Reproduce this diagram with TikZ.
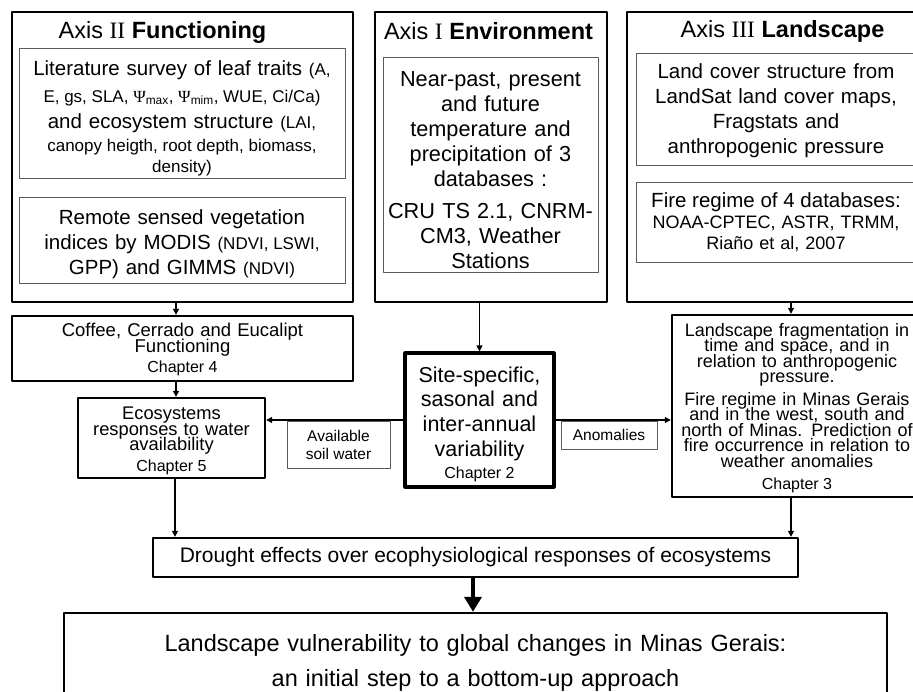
\documentclass[tikz,border=0pt]{standalone}
\usepackage{fontspec}
\setmainfont{Liberation Sans}
\newfontfamily\serifnum{Liberation Serif}
\usetikzlibrary{arrows.meta}
\definecolor{boxgray}{HTML}{5A5A5A}
% Font size with the font's own word spaces and tight line packing.
\newcommand{\sz}[2]{\fontsize{#1}{#2}\selectfont\spaceskip=\fontdimen2\font\lineskiplimit=-20pt\relax}
\newcommand{\paren}[1]{{\sz{17}{23}#1}}
% Invisible strut that pushes a text block down inside its box.
\newcommand{\lowerby}[1]{\rule{0pt}{#1}}

\begin{document}
\begin{tikzpicture}[x=1pt,y=-1pt,line join=round,
    outerbox/.style={draw,line width=1.8pt,inner sep=0pt},
    innerbox/.style={draw=boxgray,line width=0.9pt,inner sep=0pt,align=center},
    stagebox/.style={draw,line width=2.4pt,inner sep=0pt,align=center},
    tagbox/.style={draw=boxgray,line width=0.9pt,inner sep=0pt,align=center,font=\sz{15.5}{18}},
    axistitle/.style={anchor=base,font=\sz{23.5}{28}},
    arr/.style={-{Triangle[length=6pt,width=6pt]},line width=1.2pt},
    bigarr/.style={-{Triangle[length=15pt,width=17pt]},line width=4.5pt}]
  % Frame of the original slide.
  \useasboundingbox (0,0) rectangle (913,691);

  % Axis frames.
  \node[outerbox,minimum width=341pt,minimum height=290pt] (funcaxis) at (182.5,157) {};
  \node[outerbox,minimum width=232pt,minimum height=290pt] (envaxis) at (491,157) {};
  \node[outerbox,minimum width=298pt,minimum height=290pt] (landaxis) at (776,157) {};

  % Axis titles.
  \node[axistitle] (functitle) at (162.5,38) {Axis {\serifnum II} \textbf{Functioning}};
  \node[axistitle] (envtitle) at (488.5,39) {Axis {\serifnum I} \textbf{Environment}};
  \node[axistitle] (landtitle) at (782.5,37) {Axis {\serifnum III} \textbf{Landscape}};

  % Data sources inside each axis.
  \node[innerbox,minimum width=326pt,minimum height=130pt,text width=322pt,font=\sz{20.5}{23}] (leaf) at (182,113)
    {\lowerby{25pt}Literature survey of leaf traits \paren{(A,}\\[4pt]
     \paren{E, gs, SLA, {\serifnum Ψ}\textsubscript{max}, {\serifnum Ψ}\textsubscript{mim}, WUE, Ci/Ca)}\\[3pt]
     and ecosystem structure \paren{(LAI,}\\
     \paren{canopy heigth, root depth, biomass,}\\[-2pt]
     \paren{density)}};
  \node[innerbox,minimum width=326pt,minimum height=86pt,text width=322pt,font=\sz{20.5}{25}] (remote) at (182,240)
    {\lowerby{24pt}Remote sensed vegetation\\
     indices by MODIS \paren{(NDVI, LSWI,}\\
     GPP) and GIMMS \paren{(NDVI)}};
  \node[innerbox,minimum width=215pt,minimum height=215pt,text width=211pt,font=\sz{21.7}{25}] (climate) at (490.5,164.5)
    {\lowerby{27pt}Near-past, present\\ and future\\ temperature and\\ precipitation of 3\\ databases :\\[7pt]
     CRU TS 2.1, CNRM-\\ CM3, Weather\\ Stations};
  \node[innerbox,minimum width=280pt,minimum height=112pt,text width=276pt,font=\sz{20.5}{24.8}] (landcover) at (776,109)
    {\lowerby{18pt}Land cover structure from\\ LandSat land cover maps,\\ Fragstats and\\ anthropogenic pressure};
  \node[innerbox,minimum width=280pt,minimum height=80pt,text width=276pt,font=\sz{18}{21}] (fire) at (776,222)
    {{\sz{20.5}{21}Fire regime of 4 databases:}\\ NOAA-CPTEC, ASTR, TRMM,\\ Riaño et al, 2007};

  % Chapters.
  \node[stagebox,minimum width=341pt,minimum height=65pt,text width=335pt,font=\sz{18.5}{16}] (coffee) at (182.5,348.5)
    {\lowerby{16pt}Coffee, Cerrado and Eucalipt\\ Functioning\par
     {\sz{16}{20}Chapter 4\par}};
  \node[stagebox,minimum width=187pt,minimum height=80pt,text width=183pt,font=\sz{18.3}{15.5}] (eco) at (171.5,438)
    {\lowerby{19pt}Ecosystems\\ responses to water\\ availability\par
     {\sz{16}{21}Chapter 5\par}};
  \node[stagebox,line width=3.2pt,minimum width=149pt,minimum height=134pt,text width=145pt,font=\sz{21.5}{24.7}] (site) at (479.5,420)
    {\lowerby{24pt}Site-specific,\\ sasonal and\\ inter-annual\\ variability\par
     {\sz{16}{22}Chapter 2\par}};
  \node[stagebox,minimum width=250pt,minimum height=182pt,text width=246pt,font=\sz{18}{15.5}] (frag) at (797,406)
    {\lowerby{17pt}Landscape fragmentation in\\ time and space, and in\\ relation to anthropogenic\\ pressure.\par
     \vspace{7pt}
     Fire regime in Minas Gerais\\ and in the west, south and\\ north of Minas. Prediction of\\ fire occurrence in relation to\\ weather anomalies\par
     {\sz{16}{22}Chapter 3\par}};

  % Links between chapters.
  \node[tagbox,minimum width=103pt,minimum height=47pt] (soilwater) at (338.5,444.5) {Available\\ soil water};
  \node[tagbox,minimum width=96pt,minimum height=28pt] (anomalies) at (609,435) {Anomalies};

  % Synthesis.
  \node[stagebox,minimum width=645pt,minimum height=39pt,font=\sz{21}{24}] (drought) at (475.5,557.5)
    {Drought effects over ecophysiological responses of ecosystems};
  \node[stagebox,minimum width=823pt,minimum height=100pt,text width=815pt,font=\sz{23.5}{35}] (final) at (475.5,663)
    {Landscape vulnerability to global changes in Minas Gerais:\\
     an initial step to a bottom-up approach};

  % Arrows.
  \draw[arr] ([xshift=-6.5pt]funcaxis.south) -- ([xshift=-6.5pt]coffee.north);
  \draw[arr] ([xshift=-6.5pt]coffee.south) -- ([xshift=-6.5pt]coffee.south |- eco.north);
  \draw[arr] ([xshift=3.5pt]eco.south) -- ([xshift=3.5pt]eco.south |- drought.north);
  \draw[arr] (site.north |- envaxis.south) -- (site.north);
  \draw[arr] (site.west) -- (site.west -| eco.east);
  \draw[arr] (site.east) -- (site.east -| frag.west);
  \draw[arr] ([xshift=-6pt]frag.north |- landaxis.south) -- ([xshift=-6pt]frag.north);
  \draw[arr] ([xshift=-6pt]frag.south) -- ([xshift=-6pt]frag.south |- drought.north);
  \draw[bigarr] ([xshift=-2.5pt]drought.south) -- ([xshift=-2.5pt]drought.south |- final.north);
\end{tikzpicture}
\end{document}
